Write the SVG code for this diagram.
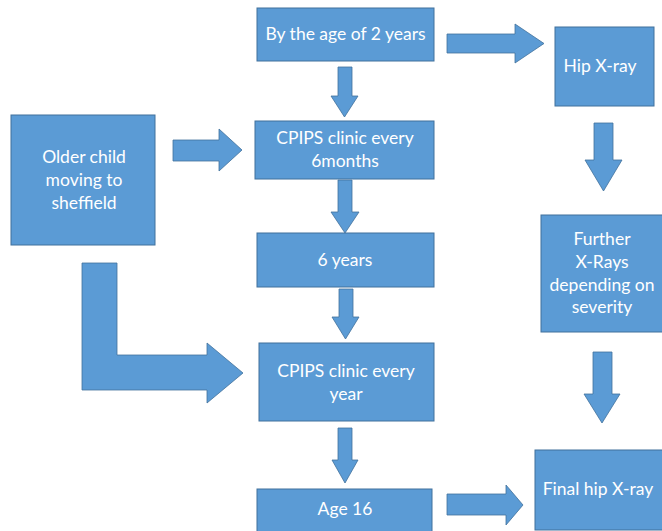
<svg xmlns="http://www.w3.org/2000/svg" width="662" height="531" viewBox="0 0 662 531">
<style>
.box{fill:#5B9BD5;stroke:#41719C;stroke-width:1}
.arr{fill:#5B9BD5;stroke:#41719C;stroke-width:0.8}
text{font-family:Lato,"Liberation Sans",sans-serif;font-size:17.5px;fill:#fff;text-anchor:middle}
</style>
<rect width="662" height="531" fill="#fff"/>
<g id="connectors">
<path class="arr" d="M447,34 H515 V24 L544,43.5 L515,63 V53 H447 Z"/>
<path class="arr" d="M338,67 H352 V96 H358 L344.5,117 L331,96 H338 Z"/>
<path class="arr" d="M173,140 H219 V129 L242,150 L219,171 V161 H173 Z"/>
<path class="arr" d="M338,180 H352 V212 H359 L345,233 L331,212 H338 Z"/>
<path class="arr" d="M339,289 H353 V317 H359 L345.5,339 L332,317 H339 Z"/>
<path class="arr" d="M82,263 H117 V355 H207 V343 L243,373 L207,403 V390 H82 Z"/>
<path class="arr" d="M338,428 H352 V460 H358 L345,483 L332,460 H338 Z"/>
<path class="arr" d="M447,494 H506 V485 L523,505 L506,525 V515 H447 Z"/>
<path class="arr" d="M594,123 H613 V160 H622 L603.5,191 L585,160 H594 Z"/>
<path class="arr" d="M593,352 H612 V394 H620 L602,423 L584,394 H593 Z"/>
</g>
<g id="n-age2"><rect class="box" x="257" y="8" width="177" height="53"/><text x="345.5" y="39.5">By the age of 2 years</text></g>
<g id="n-hip"><rect class="box" x="555" y="27" width="99" height="79"/><text x="600" y="72">Hip X-ray</text></g>
<g id="n-cpips6"><rect class="box" x="255" y="121" width="179" height="58"/><text x="345" y="144">CPIPS clinic every</text><text x="345" y="167">6months</text></g>
<g id="n-older"><rect class="box" x="11" y="115" width="144" height="130"/><text x="84" y="163">Older child</text><text x="84" y="186">moving to</text><text x="84" y="209">sheffield</text></g>
<g id="n-6y"><rect class="box" x="257" y="233" width="177" height="54"/><text x="345" y="266">6 years</text></g>
<g id="n-further"><rect class="box" x="541" y="215" width="125" height="117"/><text x="602" y="245">Further</text><text x="602" y="268">X-Rays</text><text x="602" y="291">depending on</text><text x="602" y="313">severity</text></g>
<g id="n-cpipsy"><rect class="box" x="259" y="343" width="175" height="78"/><text x="346" y="377">CPIPS clinic every</text><text x="346" y="400">year</text></g>
<g id="n-age16"><rect class="box" x="257" y="489" width="175" height="50"/><text x="345" y="515">Age 16</text></g>
<g id="n-final"><rect class="box" x="535" y="450" width="135" height="80"/><text x="598" y="495">Final hip X-ray</text></g>
</svg>
